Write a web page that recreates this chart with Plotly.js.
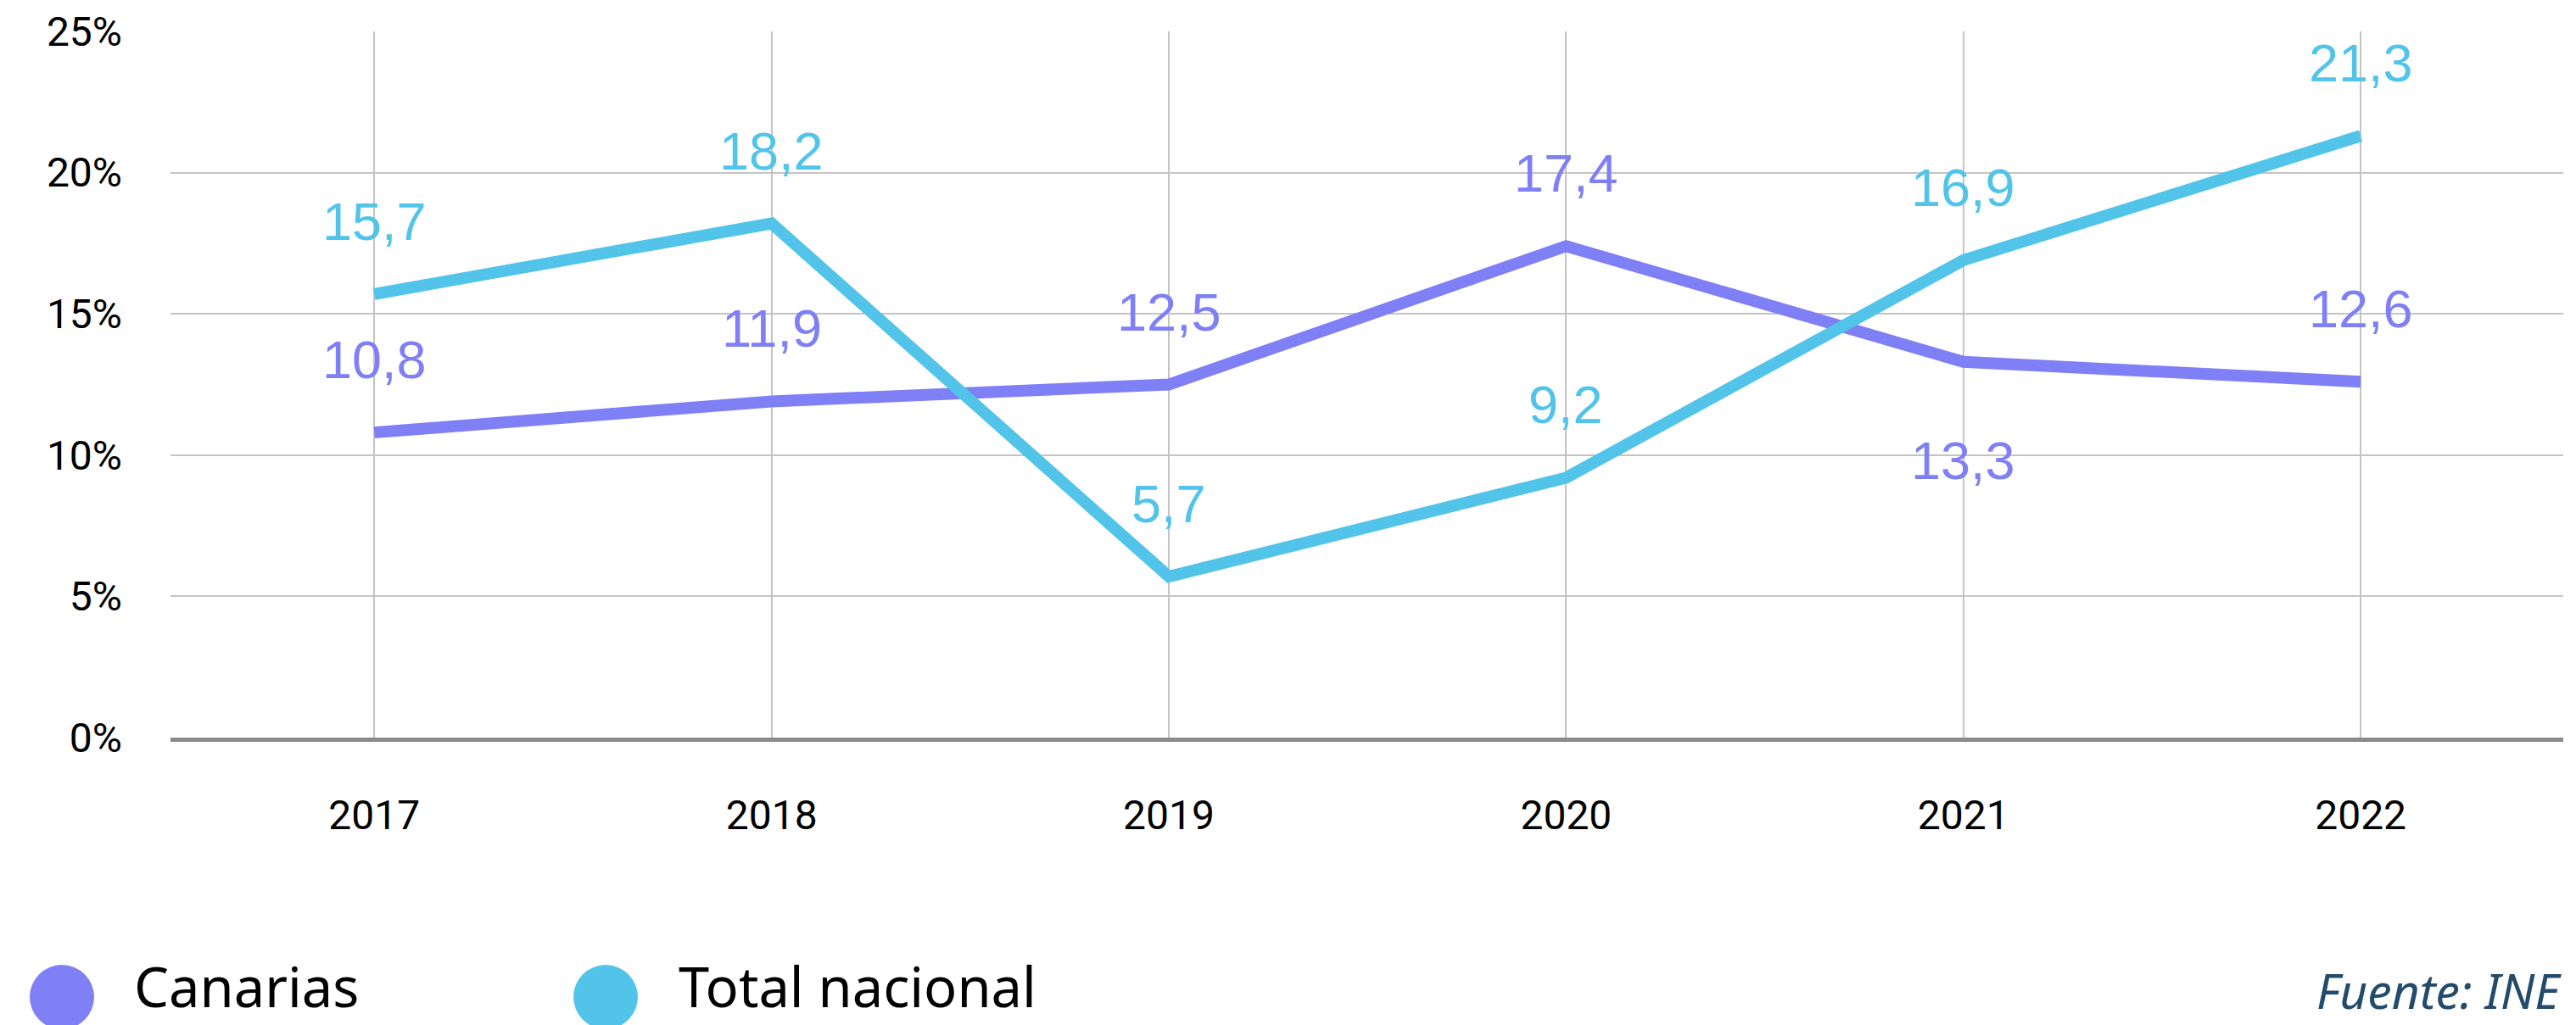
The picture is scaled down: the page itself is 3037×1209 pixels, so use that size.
<!DOCTYPE html>
<html>
<head>
<meta charset="utf-8">
<script src="https://cdn.plot.ly/plotly-3.0.1.min.js"></script>
<style>html,body{margin:0;padding:0;background:#fff;}</style>
</head>
<body>
<div id="chart" style="width:3037px;height:1209px;"></div>
<script>
// ---- data ----
const years = ['2017', '2018', '2019', '2020', '2021', '2022'];
const canarias = [10.8, 11.9, 12.5, 17.4, 13.3, 12.6];
const totalNacional = [15.7, 18.2, 5.7, 9.2, 16.9, 21.3];
const seriesNames = ['Canarias', 'Total nacional'];
const yTicks = [0, 5, 10, 15, 20, 25];
const sourceText = 'Fuente: INE';

// ---- styling / placement ----
const colors = ['#7f7ff6', '#52c4ea'];
const W = 3037, H = 1209;
const L = 201, R = 3022, T = 37, B = 870;
const px2x = p => (p - L) / (R - L);
const py2y = p => (B - p) / (B - T);
// label placement: +1 above point, -1 below
const canPlace = [1, 1, 1, 1, -1, 1];
const totPlace = [1, 1, 1, 1, 1, 1];

const fmt = v => v.toFixed(1).replace('.', ',');

const traces = [
  {x: years, y: canarias, name: seriesNames[0], type: 'scatter', mode: 'lines',
   line: {color: colors[0], width: 14}, hoverinfo: 'skip'},
  {x: years, y: totalNacional, name: seriesNames[1], type: 'scatter', mode: 'lines',
   line: {color: colors[1], width: 14}, hoverinfo: 'skip'}
];

const annotations = [];
function addLabels(vals, place, color) {
  vals.forEach((v, i) => {
    annotations.push({
      x: i, y: v, xref: 'x', yref: 'y', text: fmt(v), showarrow: false,
      yshift: place[i] > 0 ? 86 : -116,
      font: {family: 'Liberation Sans, Arial, sans-serif', size: 63, color: color}
    });
  });
}
addLabels(canarias, canPlace, colors[0]);
addLabels(totalNacional, totPlace, colors[1]);

// legend
const legendItems = [
  {cx: 73, tx: 156, name: seriesNames[0], color: colors[0]},
  {cx: 714, tx: 798, name: seriesNames[1], color: colors[1]}
];
const legendY = 1176;
const shapes = [];
legendItems.forEach(it => {
  shapes.push({type: 'circle', xref: 'paper', yref: 'paper',
    xsizemode: 'pixel', ysizemode: 'pixel',
    xanchor: px2x(it.cx), yanchor: py2y(legendY),
    x0: -38, x1: 38, y0: -38, y1: 38,
    fillcolor: it.color, line: {width: 0}});
  annotations.push({x: px2x(it.tx), y: py2y(1209), xref: 'paper', yref: 'paper',
    xanchor: 'left', yanchor: 'bottom', showarrow: false, text: it.name,
    font: {family: 'Noto Sans, sans-serif', size: 65, color: '#000'}});
});
annotations.push({x: px2x(3022), y: py2y(1209), xref: 'paper', yref: 'paper',
  xanchor: 'right', yanchor: 'bottom', showarrow: false, text: sourceText,
  font: {family: 'Noto Sans, sans-serif', size: 57, color: '#234b6b', style: 'italic'}});

const layout = {
  width: W, height: H,
  margin: {l: L, r: W - R, t: T, b: H - B, pad: 0},
  paper_bgcolor: '#fff', plot_bgcolor: '#fff',
  showlegend: false,
  xaxis: {
    type: 'category', range: [-0.513, 5.51],
    showgrid: true, gridcolor: '#c4c4c4', gridwidth: 2,
    showline: true, linecolor: '#8a8a8a', linewidth: 5,
    ticks: '', ticklabelstandoff: 45,
    tickfont: {family: 'Roboto, sans-serif', size: 48, color: '#000'},
    zeroline: false, fixedrange: true
  },
  yaxis: {
    range: [0, 25], tickvals: yTicks, ticktext: yTicks.map(v => v + '%'),
    showgrid: true, gridcolor: '#c4c4c4', gridwidth: 2,
    zeroline: false, showline: false,
    ticks: '', ticklabelstandoff: 56,
    tickfont: {family: 'Roboto, sans-serif', size: 48, color: '#000'},
    fixedrange: true
  },
  annotations: annotations,
  shapes: shapes
};

Plotly.newPlot('chart', traces, layout, {displayModeBar: false, staticPlot: true});
</script>
</body>
</html>
